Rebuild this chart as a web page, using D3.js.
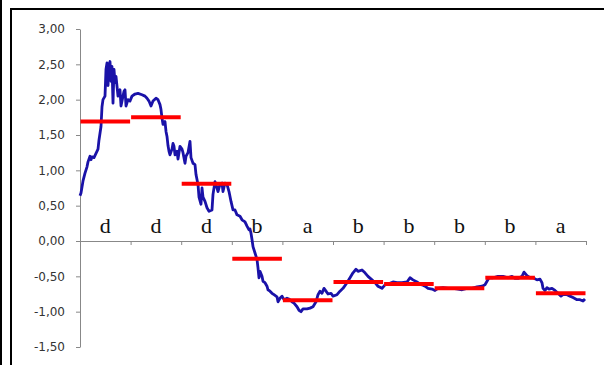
<!DOCTYPE html>
<html>
<head>
<meta charset="utf-8">
<script src="https://cdn.jsdelivr.net/npm/d3@7"></script>
<style>
  body { margin: 0; background: white; }
</style>
</head>
<body>
<div id="chart"></div>
<script>
// categories under the zero line, one per period
const categories = ["d", "d", "d", "b", "a", "b", "b", "b", "b", "a"];
// mean level (red bars) per period
const levels = [1.69, 1.75, 0.81, -0.25, -0.84, -0.58, -0.61, -0.67, -0.52, -0.74];
const yTicks = [-1.5, -1, -0.5, 0, 0.5, 1, 1.5, 2, 2.5, 3];

// blue series: day index and value
const TOTAL_DAYS = 506;
const days = [
  0, 1, 3, 5, 7, 8, 10, 11, 12, 14, 16, 18, 19, 21, 22, 23, 25, 26, 27, 28,
  29, 30, 31, 32, 33, 34, 35, 36, 37, 38, 40, 41, 43, 44, 45, 46, 48, 50, 52, 55,
  58, 62, 65, 67, 69, 71, 73, 76, 78, 80, 81, 82, 83, 85, 86, 87, 88, 89, 90, 92,
  93, 94, 95, 97, 98, 100, 102, 103, 105, 106, 108, 110, 111, 113, 115, 116, 118, 119, 121, 122,
  123, 125, 127, 129, 132, 133, 135, 137, 138, 140, 142, 143, 145, 147, 149, 151, 153, 155, 157, 160,
  162, 165, 167, 169, 170, 171, 172, 173, 175, 177, 178, 179, 180, 182, 183, 185, 187, 188, 190, 192,
  194, 197, 198, 200, 202, 204, 207, 209, 212, 214, 217, 219, 221, 223, 227, 230, 233, 236, 238, 240,
  242, 244, 246, 248, 251, 253, 257, 260, 263, 267, 270, 273, 276, 278, 282, 285, 288, 292, 295, 298,
  302, 305, 308, 313, 317, 322, 327, 330, 333, 337, 340, 342, 345, 348, 352, 355, 358, 363, 368, 373,
  378, 382, 387, 392, 397, 402, 405, 407, 409, 413, 418, 423, 428, 432, 435, 438, 442, 444, 447, 450,
  453, 457, 460, 462, 463, 465, 467, 469, 472, 475, 478, 481, 483, 487, 490, 493, 497, 500, 503, 505
];
const values = [
  0.64, 0.68, 0.85, 0.96, 1.05, 1.12, 1.20, 1.15, 1.19, 1.18, 1.24, 1.30, 1.43, 1.62, 1.90, 2.00, 2.05, 2.43, 2.52, 2.20,
  2.48, 2.54, 2.26, 2.47, 1.95, 2.43, 2.24, 2.33, 2.19, 2.05, 2.14, 1.91, 2.05, 2.12, 2.14, 1.91, 2.00, 1.98, 2.05, 2.08,
  2.09, 2.07, 2.05, 2.02, 1.98, 1.91, 1.98, 2.02, 2.00, 1.93, 1.86, 1.74, 1.65, 1.69, 1.55, 1.48, 1.35, 1.27, 1.22, 1.30,
  1.38, 1.34, 1.22, 1.27, 1.16, 1.34, 1.30, 1.25, 1.10, 1.20, 1.25, 1.41, 1.18, 1.10, 1.08, 0.94, 0.80, 0.62, 0.52, 0.75,
  0.62, 0.56, 0.47, 0.42, 0.44, 0.66, 0.84, 0.75, 0.70, 0.80, 0.82, 0.70, 0.82, 0.80, 0.70, 0.56, 0.44, 0.44, 0.37, 0.35,
  0.30, 0.27, 0.21, 0.16, 0.17, 0.11, 0.02, -0.08, -0.17, -0.26, -0.38, -0.52, -0.43, -0.50, -0.57, -0.59, -0.64, -0.69, -0.71, -0.74,
  -0.76, -0.79, -0.86, -0.81, -0.78, -0.83, -0.81, -0.82, -0.86, -0.88, -0.93, -0.98, -1.00, -0.96, -0.96, -0.95, -0.93, -0.86, -0.76, -0.71,
  -0.74, -0.67, -0.71, -0.75, -0.74, -0.78, -0.76, -0.71, -0.67, -0.59, -0.52, -0.45, -0.40, -0.43, -0.41, -0.45, -0.50, -0.55, -0.59, -0.64,
  -0.67, -0.62, -0.61, -0.58, -0.59, -0.59, -0.58, -0.52, -0.55, -0.58, -0.61, -0.62, -0.64, -0.67, -0.68, -0.70, -0.67, -0.66, -0.67, -0.67,
  -0.68, -0.69, -0.67, -0.67, -0.65, -0.64, -0.62, -0.57, -0.52, -0.52, -0.50, -0.50, -0.52, -0.50, -0.53, -0.53, -0.50, -0.44, -0.49, -0.52,
  -0.52, -0.55, -0.54, -0.59, -0.67, -0.70, -0.66, -0.68, -0.67, -0.70, -0.74, -0.78, -0.76, -0.76, -0.78, -0.80, -0.83, -0.83, -0.85, -0.82
];

const WIDTH = 604, HEIGHT = 365;
const MARGIN = { TOP: 29, BOTTOM: 18, LEFT: 80, RIGHT: 18 };
const innerW = WIDTH - MARGIN.LEFT - MARGIN.RIGHT;
const innerH = HEIGHT - MARGIN.TOP - MARGIN.BOTTOM;

const svg = d3
  .select("#chart")
  .append("svg")
  .attr("width", WIDTH)
  .attr("height", HEIGHT)
  .style("display", "block")
  .style("background", "white");

// black frame pieces (cropped screenshot border)
svg.append("rect").attr("x", 0).attr("y", 0).attr("width", 2).attr("height", HEIGHT).attr("fill", "#000");
svg.append("rect").attr("x", 10).attr("y", 8).attr("width", 2).attr("height", HEIGHT - 8).attr("fill", "#000");
svg.append("rect").attr("x", 10).attr("y", 8).attr("width", WIDTH - 10).attr("height", 2).attr("fill", "#000");

const g = svg
  .append("g")
  .attr("transform", `translate(${MARGIN.LEFT}, ${MARGIN.TOP})`);

const yScale = d3.scaleLinear().domain([-1.5, 3]).range([innerH, 0]);
const xBand = d3.scaleBand().domain(d3.range(categories.length)).range([0, innerW]).padding(0);
const xPeriods = d3.scaleLinear().domain([0, categories.length]).range([0, innerW]);
const xDays = d3.scaleLinear().domain([0, TOTAL_DAYS]).range([0, innerW]);

const fmt = (v) => v.toFixed(2).replace(".", ",");

const yAxisGroup = g
  .append("g")
  .call(d3.axisLeft(yScale).tickValues(yTicks).tickFormat(fmt).tickSize(4).tickSizeOuter(0).tickPadding(11));

yAxisGroup.selectAll("text")
  .attr("font-family", "DejaVu Sans, Verdana, sans-serif")
  .attr("font-size", 12)
  .attr("fill", "#333");

const xAxisGroup = g
  .append("g")
  .attr("transform", `translate(0, ${yScale(0)})`)
  .call(d3.axisBottom(xPeriods).tickValues(d3.range(categories.length + 1)).tickFormat("").tickSize(4).tickSizeOuter(0));

g.selectAll(".domain, .tick line").attr("stroke", "#888888").attr("stroke-width", 1);

// category letters
g.selectAll(".cat")
  .data(categories)
  .join("text")
  .attr("class", "cat")
  .attr("x", (d, i) => xBand(i) + xBand.bandwidth() / 2)
  .attr("y", yScale(0) - 8)
  .attr("text-anchor", "middle")
  .attr("font-family", "Liberation Serif, Times New Roman, serif")
  .attr("font-size", 22)
  .attr("fill", "#111")
  .text((d) => d);

// blue series
const series = days.map((d, i) => [d, values[i]]);
const line = d3
  .line()
  .x((d) => xDays(d[0]))
  .y((d) => yScale(d[1]));

g.append("path")
  .datum(series)
  .attr("d", line)
  .attr("fill", "none")
  .attr("stroke", "#1a12a8")
  .attr("stroke-width", 2.8)
  .attr("stroke-linejoin", "round");

// red level bars
g.selectAll(".level")
  .data(levels)
  .join("line")
  .attr("class", "level")
  .attr("x1", (d, i) => xBand(i) + 0.5)
  .attr("x2", (d, i) => xBand(i) + xBand.bandwidth() - 0.5)
  .attr("y1", (d) => yScale(d))
  .attr("y2", (d) => yScale(d))
  .attr("stroke", "#ff0000")
  .attr("stroke-width", 4);
</script>
</body>
</html>
